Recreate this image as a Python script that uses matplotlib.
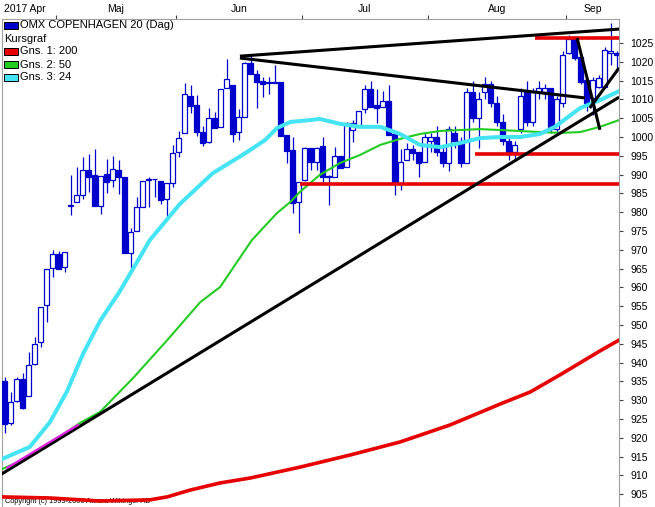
import matplotlib
matplotlib.use("Agg")
import matplotlib.pyplot as plt
from matplotlib.patches import Rectangle
import numpy as np

# daily candles, index 0 = first day shown (Apr 2017)
opens = [935.0, 923.9, 929.7, 935.6, 931.1, 939.5, 945.5, 955.3, 965.1,
         968.8, 965.3, 981.6, 982.8, 984.6, 991.2, 989.9, 981.7, 990.1, 988.6, 991.2,
         989.3, 969.2, 975.1, 981.5, 988.5, 988.7, 988.3, 983.4, 987.8,
         995.9, 1001.0, 1010.9, 1008.5, 1001.2, 998.6, 1005.0, 1002.6, 1013.0, 1013.8, 1001.2,
         1005.4, 1019.8, 1016.8, 1015.0, 1014.3, 1014.4, 1014.5, 1000.5, 996.5, 982.6,
         988.6, 997.0, 993.4, 997.6, 989.3, 989.4, 995.0, 991.9, 1001.9, 1002.9, 1007.4,
         1012.7, 1008.5, 1008.1, 1009.6, 1000.8, 987.7, 993.9, 996.7, 996.1, 993.4,
         999, 1000, 996, 993, 1001, 999, 993, 1012, 1005, 1012, 1014, 1009, 1004, 999, 996,
         1002, 1012, 1004, 1012, 1012, 1013, 1002, 1009,
         1022.3, 1026, 1021.3, 1015.2, 1010.4, 1013.3, 1013.3, 1022.4, 1022.4]
highs = [936.3, 932.3, 936.3, 937.3, 942.8, 946.7, 954.7, 964.8, 969.9,
         969.6, 969.3, 989.9, 992.1, 994.8, 995.4, 996.8, 989.6, 994.1, 995.0, 993.9,
         989.3, 975.7, 984.1, 988.3, 989.4, 988.9, 988.3, 987.7, 997.9,
         1001.6, 1014.4, 1013.8, 1011.2, 1002.9, 1007.8, 1006.7, 1012.7, 1020.7, 1013.8, 1007.4,
         1020.0, 1021.8, 1017.8, 1016.0, 1015.9, 1019.1, 1014.5, 1000.5, 999.9, 988.1,
         997.3, 997.0, 997.3, 999.9, 989.9, 997.3, 995.0, 1004.1, 1004.5, 1007.0, 1013.8,
         1014.9, 1012.7, 1012.2, 1013.8, 1000.8, 996.7, 998.3, 997.9, 996.1, 1001.4,
         1001, 1003, 998, 1003, 1003, 1000, 1013, 1015, 1012, 1016, 1015, 1011, 1006, 1000, 999,
         1013, 1015, 1013, 1015, 1014, 1013, 1011, 1023,
         1027, 1026.5, 1021.5, 1016, 1016, 1016.5, 1024, 1030.3, 1023]
lows = [921.4, 923.5, 929.5, 927.6, 931.0, 939.3, 944.2, 950.9, 962.7,
        964.8, 964.2, 979.3, 982.8, 983.4, 985.5, 981.7, 979.4, 985.0, 986.8, 984.8,
        969.1, 965.1, 975.1, 981.5, 981.5, 984.1, 982.2, 978.1, 986.6,
        994.6, 1001.0, 1006.5, 1000.3, 997.7, 998.3, 1002.3, 1002.6, 1013.0, 998.7, 999.2,
        1005.4, 1016.7, 1007.6, 1010.6, 1011.4, 1014.4, 1000.3, 993.0, 979.9, 974.4,
        988.4, 991.2, 991.2, 987.5, 981.9, 989.4, 991.7, 991.9, 998.7, 1002.9, 1006.3,
        1008.1, 1003.8, 1008.1, 1000.5, 984.6, 985.9, 993.9, 993.9, 989.4, 993.4,
        996, 995, 992, 991, 997, 992, 993, 1004, 997, 1010, 1008, 1003, 998, 994, 994,
        1001, 1003, 1003, 1010, 1010, 1001, 1001, 1008,
        1022, 1020.5, 1014, 1007, 1005.9, 1013, 1013, 1019.1, 1017.3]
closes = [923.6, 929.6, 935.6, 927.8, 939.3, 945.0, 954.7, 964.8, 968.8,
          964.8, 969.3, 982.0, 984.6, 991.2, 989.4, 981.7, 989.6, 988.0, 991.4, 989.3,
          969.1, 974.7, 981.3, 988.3, 988.7, 988.7, 983.2, 987.7, 995.7,
          999.7, 1011.4, 1008.3, 1001.2, 998.3, 1005.0, 1002.3, 1012.7, 1015.3, 1000.7, 1005.2,
          1019.8, 1016.7, 1014.7, 1014.0, 1014.5, 1014.6, 1000.3, 996.4, 982.4, 988.1,
          997.0, 993.4, 997.0, 989.3, 989.5, 995.0, 991.7, 1003.6, 1003.8, 1007.0, 1012.7,
          1008.1, 1007.8, 1009.6, 1000.5, 987.7, 993.4, 996.8, 995.8, 993.0, 1000.1,
          1000, 996, 993, 1002, 999, 993, 1012, 1005, 1010, 1014, 1009, 1004, 999, 996, 998,
          1011, 1004, 1012, 1013, 1013, 1002, 1010, 1021.8,
          1026, 1021, 1014.6, 1009, 1015.2, 1015.7, 1023.1, 1022.8, 1021.9]

# moving averages (day index, value)
ma200_x = [-0.8, 7.5, 15.9, 24.2, 27.1, 30.9, 35.9, 40.9, 49.2, 57.5, 65.9, 74.2, 82.6, 87.6, 92.5, 99.2, 102.4]
ma200_y = [904.3, 904.0, 903.2, 903.5, 904.3, 906.1, 908.0, 909.3, 912.2, 915.4, 918.9, 923.4, 929.0, 932.2, 936.7, 943.1, 946.0]
ma50_x = [-0.8, 4.7, 12.5, 15.9, 21.4, 27.1, 32.6, 35.9, 41.2, 45.4, 47.6, 49.2, 52.5, 55.9, 59.2, 62.6,
          65.9, 69.2, 72.6, 79.2, 85.9, 89.2, 92.5, 95.9, 99.2, 102.4]
ma50_y = [911.4, 915.4, 923.9, 926.9, 935.9, 946.0, 956.1, 960.1, 972.6, 979.8, 982.7, 985.4, 989.9, 993.1,
          995.2, 997.9, 999.5, 1000.8, 1001.6, 1002.1, 1001.6, 1001.3, 1001.1, 1001.3, 1002.7, 1004.5]
ma24_x = [-0.8, 4.2, 7.55, 10.4, 13.05, 15.9, 19.2, 24.2, 29.2, 34.7, 40.4, 43.4, 45.4, 47.6, 50.9, 52.5,
          55.9, 59.2, 62.6, 65.9, 69.2, 72.6, 75.9, 79.2, 82.6, 85.9, 89.2, 91.7, 95.9, 99.2, 102.4]
ma24_y = [914.1, 917.6, 924.2, 932.4, 942.3, 951.1, 959.0, 972.6, 982.2, 990.4, 996.0, 999.2, 1002.4, 1004.0,
          1004.5, 1004.8, 1003.5, 1002.7, 1002.7, 1000.8, 997.9, 997.3, 998.4, 999.7, 1000.0, 1000.0,
          1000.8, 1002.7, 1007.7, 1009.8, 1012.2]

# hand drawn trend lines: (x0, y0, x1, y1)
trend_lines = [(-0.8, 910.1, 102.4, 1010.6),
               (39.2, 1021.5, 102.4, 1028.7),
               (39.2, 1021.0, 96.7, 1010.4),
               (95.4, 1026.3, 99.2, 1001.9),
               (97.5, 1007.7, 102.4, 1018.4)]
support_levels = [(49.2, 987.5), (78.4, 995.4), (88.4, 1026.2)]

months = ["2017 Apr", "Maj", "Jun", "Jul", "Aug", "Sep"]
month_edges = [8.5, 28.5, 49.5, 70.5, 93.5]

W, H = 655, 507
BLUE = "#0000cc"
fig = plt.figure(figsize=(W / 100, H / 100), dpi=100)
ax = fig.add_axes([2 / W, 0, 617 / W, 488 / H])
ax.set_xlim(-0.45, 102.38)
ax.set_ylim(901.6, 1031.38)

x = np.arange(len(opens))
o, h, l, c = map(np.array, (opens, highs, lows, closes))
ax.vlines(x, l, h, color=BLUE, lw=0.9, zorder=3)
up = c >= o
ax.bar(x, c - o, bottom=o, width=0.8, color=np.where(up, "white", BLUE),
       edgecolor=BLUE, lw=0.9, zorder=4)

ma_style = dict(zorder=5, solid_joinstyle="round", solid_capstyle="round")
ax.plot(ma200_x, ma200_y, color="#e60000", lw=2.6, **ma_style)
ax.plot(ma50_x, ma50_y, color="#22cc22", lw=1.5, **ma_style)
ax.plot(ma24_x, ma24_y, color="#44e4f4", lw=2.9, **ma_style)

for x0, lvl in support_levels:
    ax.plot([x0, 102.4], [lvl, lvl], color="#e60000", lw=2.6, zorder=6, solid_capstyle="butt")
for x0, y0, x1, y1 in trend_lines:
    ax.plot([x0, x1], [y0, y1], color="black", lw=2.2, zorder=7, solid_capstyle="butt")
ax.plot([0.4, 12.2], [912.0, 923.4], color="#e020e0", lw=1.6, zorder=8)

ax.yaxis.tick_right()
ax.set_yticks(np.arange(905, 1026, 5))
ax.tick_params(axis="y", length=3, width=0.8, color="#404040", pad=5, labelsize=7.5)
ax.xaxis.tick_top()
ax.set_xticks(month_edges)
ax.set_xticklabels([])
ax.tick_params(axis="x", length=3, width=0.8, color="#404040")
for s in ["top", "left", "right"]:
    ax.spines[s].set_color("#a0a0a0")
ax.spines["bottom"].set_visible(False)

for lab in ax.get_yticklabels():
    lab.set_family("Liberation Sans")

edges = [-0.45] + month_edges + [102.38]
for k, name in enumerate(months):
    if k == 0:
        ax.text(-0.1, 1.01, name, transform=ax.get_xaxis_transform(), ha="left", va="bottom",
                fontsize=7.5, family="Liberation Sans")
    else:
        ax.text((edges[k] + edges[k + 1]) / 2, 1.01, name, transform=ax.get_xaxis_transform(),
                ha="center", va="bottom", fontsize=7.5, family="Liberation Sans")

legend = [("OMX COPENHAGEN 20 (Dag)", BLUE), ("Kursgraf", None), ("Gns. 1: 200", "#e60000"),
          ("Gns. 2: 50", "#22cc22"), ("Gns. 3: 24", "#44e4f4")]
for k, (name, col) in enumerate(legend):
    yc = 25.5 + 13 * k
    if col:
        fig.add_artist(Rectangle((4 / W, 1 - (yc + 3.5) / H), 14 / W, 7 / H, transform=fig.transFigure,
                                 facecolor=col, edgecolor="black", lw=0.7))
    fig.text((20 if col else 4) / W, 1 - yc / H, name, ha="left", va="center", fontsize=8,
             family="Liberation Sans")

ax.text(0.02, 903.0, "Copyright (c) 1993-2006 Aurora Wikinger AB", fontsize=5.3,
        family="Liberation Sans", va="center", zorder=2)

fig.savefig("out.png", dpi=100)
